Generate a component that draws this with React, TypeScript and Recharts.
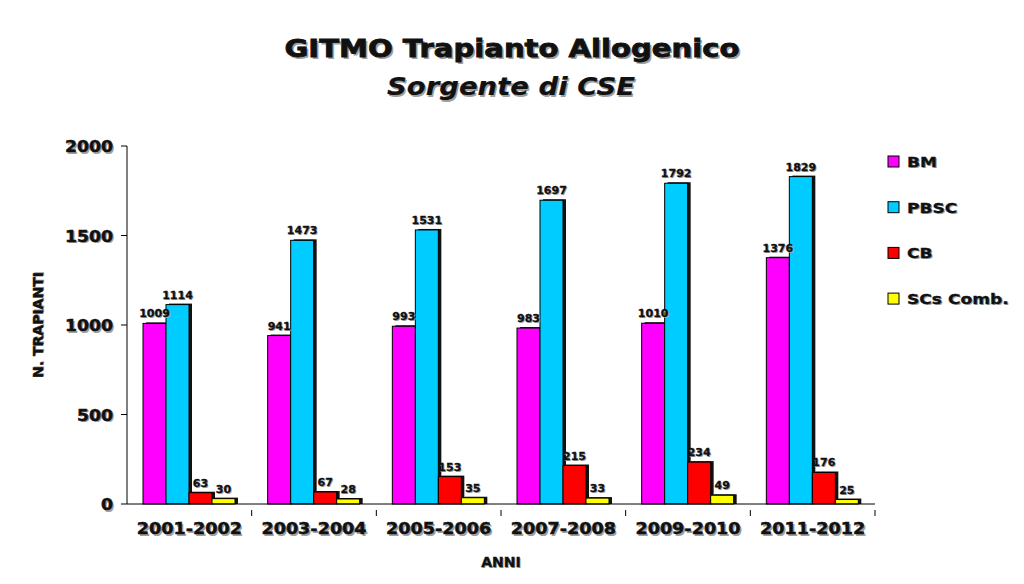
import React from "react"
import { BarChart, Bar, XAxis, YAxis, LabelList } from "recharts"

const periods = ["2001-2002", "2003-2004", "2005-2006", "2007-2008", "2009-2010", "2011-2012"]
const bm = [1009, 941, 993, 983, 1010, 1376]
const pbsc = [1114, 1473, 1531, 1697, 1792, 1829]
const cb = [63, 67, 153, 215, 234, 176]
const scs = [30, 28, 35, 33, 49, 25]
const yTicks = [0, 500, 1000, 1500, 2000]

const series = [
  { key: "bm", name: "BM", color: "#ff00ff" },
  { key: "pbsc", name: "PBSC", color: "#00ccff" },
  { key: "cb", name: "CB", color: "#ff0000" },
  { key: "scs", name: "SCs Comb.", color: "#ffff00" },
]

const rows = periods.map((p, i) => ({ period: p, bm: bm[i], pbsc: pbsc[i], cb: cb[i], scs: scs[i] }))

const FONT = "'DejaVu Sans', 'Liberation Sans', Arial, sans-serif"

// heavy text with a soft grey drop shadow, optionally stretched sideways
function ShadowText({ x, y, children, size, anchor = "middle", sx = 1, len, italic = false, shadow = 1.5, heavy = 0.5 }: any) {
  const extra = len ? { textLength: len, lengthAdjust: "spacingAndGlyphs" } : {}
  return (
    <g transform={`translate(${x},${y}) scale(${sx},1)`} fontFamily={FONT} fontWeight="bold" fontSize={size} fontStyle={italic ? "italic" : "normal"} textAnchor={anchor}>
      <text x={shadow} y={shadow} fill="#a0a0a0" {...extra}>{children}</text>
      <text x={0} y={0} fill="#111" stroke="#111" strokeWidth={heavy} {...extra}>{children}</text>
    </g>
  )
}

function ShadowBar(props: any) {
  const { x, y, width, height, fill } = props
  if (!height || height <= 0) return null
  return (
    <g>
      <rect x={x + 3} y={y - 1} width={width} height={height + 1} fill="#111" />
      <rect x={x} y={y} width={width} height={height} fill={fill} stroke="#000" strokeWidth={1} />
    </g>
  )
}

function ValueLabel(props: any) {
  const { x, y, width, value } = props
  return <ShadowText x={x + width / 2} y={y - 6} size={11} shadow={1} heavy={0.3}>{value}</ShadowText>
}

function XTick(props: any) {
  const { x, y, payload } = props
  const half = 748 / periods.length / 2
  return (
    <g>
      <line x1={x + half} y1={y - 2} x2={x + half} y2={y + 4} stroke="#000" />
      <ShadowText x={x} y={y + 22} size={16} sx={1.1}>{payload.value}</ShadowText>
    </g>
  )
}

function YTick(props: any) {
  const { x, y, payload } = props
  return <ShadowText x={x - 6} y={y + 6} size={16} sx={1.08} anchor="end">{payload.value}</ShadowText>
}

function XLabel(props: any) {
  const { viewBox } = props
  return <ShadowText x={viewBox.x + viewBox.width / 2} y={567} size={14} shadow={1} heavy={0.4}>ANNI</ShadowText>
}

function YLabel(props: any) {
  const { viewBox } = props
  const cy = viewBox.y + viewBox.height / 2
  return (
    <g transform={`rotate(-90, 43, ${cy})`}>
      <ShadowText x={43} y={cy} size={14} shadow={1} heavy={0.4}>N. TRAPIANTI</ShadowText>
    </g>
  )
}

export default function App() {
  return (
    <div style={{ position: "absolute", left: 0, top: 0, width: 1024, height: 584, background: "#fff" }}>
      <svg width={1024} height={584} style={{ position: "absolute", left: 0, top: 0 }}>
        <ShadowText x={512} y={57} size={24} len={455} shadow={2} heavy={0.8}>GITMO Trapianto Allogenico</ShadowText>
        <ShadowText x={511} y={95} size={24} len={248} italic shadow={1.5} heavy={0.2}>Sorgente di CSE</ShadowText>
        {series.map((s, i) => (
          <g key={s.key}>
            <rect x={888} y={156 + i * 45.7} width={11} height={11} fill={s.color} stroke="#000" />
            <ShadowText x={907} y={167 + i * 45.7} size={14} sx={1.22} anchor="start" shadow={1} heavy={0.3}>{s.name}</ShadowText>
          </g>
        ))}
      </svg>
      <div style={{ position: "absolute", left: 0, top: 0 }}>
        <BarChart
          width={1024}
          height={584}
          data={rows}
          margin={{ top: 146, right: 149, bottom: 50, left: 67 }}
          barGap={0}
          barCategoryGap={16}
        >
          <XAxis
            dataKey="period"
            height={30}
            stroke="#000"
            tickLine={false}
            interval={0}
            tick={<XTick />}
            label={<XLabel />}
          />
          <YAxis
            width={60}
            domain={[0, 2000]}
            ticks={yTicks}
            stroke="#000"
            tickSize={6}
            tick={<YTick />}
            label={<YLabel />}
          />
          {series.map((s) => (
            <Bar key={s.key} dataKey={s.key} name={s.name} fill={s.color} shape={<ShadowBar />} isAnimationActive={false}>
              <LabelList dataKey={s.key} content={<ValueLabel />} />
            </Bar>
          ))}
        </BarChart>
      </div>
    </div>
  )
}
